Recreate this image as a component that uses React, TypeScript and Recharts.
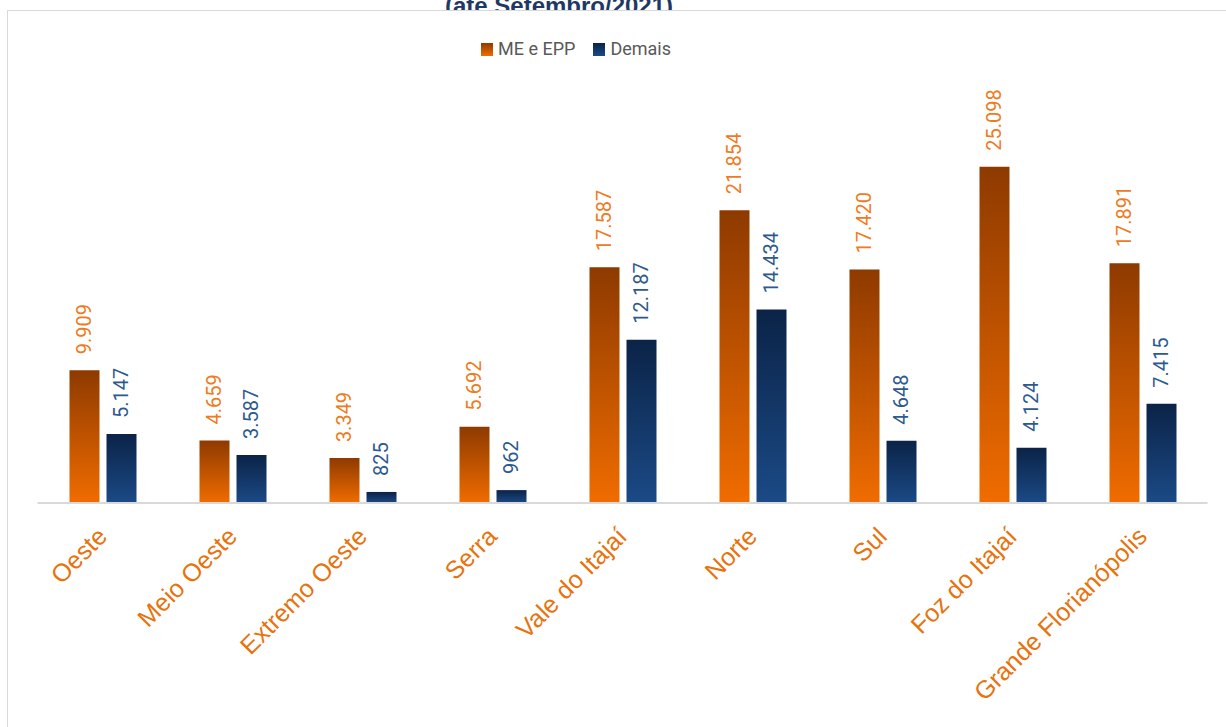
import React from "react";
import { BarChart, Bar, XAxis, YAxis, LabelList } from "recharts";

const regions = ["Oeste", "Meio Oeste", "Extremo Oeste", "Serra", "Vale do Itajaí", "Norte", "Sul", "Foz do Itajaí", "Grande Florianópolis"];
const meEpp = [9909, 4659, 3349, 5692, 17587, 21854, 17420, 25098, 17891];
const demais = [5147, 3587, 825, 962, 12187, 14434, 4648, 4124, 7415];
const seriesNames = ["ME e EPP", "Demais"];

const data = regions.map((name, i) => ({ name, me: meEpp[i], demais: demais[i] }));

const fmt = (v: number) => String(v).replace(/\B(?=(\d{3})+(?!\d))/g, ".");

const ORANGE_LABEL = "#EE7B22";
const BLUE_LABEL = "#2D5A8E";
const AXIS_ORANGE = "#E8720C";

function makeLabel(color: string) {
  return (props: any) => {
    const { x, y, width, value } = props;
    const cx = Number(x) + Number(width) / 2 + 7;
    const ty = Number(y) - 16;
    return (
      <text x={cx} y={ty} transform={`rotate(-90 ${cx} ${ty})`} textAnchor="start" fill={color}
        style={{ fontFamily: "Roboto", fontSize: 20 }}>
        {fmt(value)}
      </text>
    );
  };
}

function Tick(props: any) {
  const { x, y, payload } = props;
  const ax = x + 6;
  const ay = y + 35;
  return (
    <text x={ax} y={ay} transform={`rotate(-45 ${ax} ${ay})`} textAnchor="end" fill={AXIS_ORANGE}
      style={{ fontFamily: "'Liberation Sans', Arial", fontSize: 25 }}>
      {payload.value}
    </text>
  );
}

export default function App() {
  return (
    <div style={{ position: "absolute", left: 0, top: 0, width: 1226, height: 727, overflow: "hidden", background: "#fff" }}>
      <svg width={1226} height={30} style={{ position: "absolute", left: 0, top: 0 }}>
        <text x={559} y={14} textAnchor="middle" fill="#1F3864"
          style={{ fontFamily: "'Liberation Sans', Arial", fontSize: 24, fontWeight: 700 }}>
          (até Setembro/2021)
        </text>
      </svg>
      <div style={{ position: "absolute", left: 7, top: 10, width: 1400, height: 900, background: "#fff",
        borderLeft: "1.5px solid #D9D9D9", borderTop: "1.5px solid #D9D9D9" }} />
      <div style={{ position: "absolute", left: 481, top: 36, display: "flex", alignItems: "center",
        fontFamily: "Roboto", fontSize: 18, color: "#595959", lineHeight: "26px" }}>
        <span style={{ width: 12, height: 13, background: "linear-gradient(#8E3A00, #F06C00)", marginRight: 5 }} />
        <span style={{ marginRight: 18 }}>{seriesNames[0]}</span>
        <span style={{ width: 12, height: 13, background: "linear-gradient(#0B2347, #1B4A86)", marginRight: 5 }} />
        <span>{seriesNames[1]}</span>
      </div>
      <div style={{ position: "absolute", left: 0, top: 0 }}>
        <BarChart width={1226} height={727} data={data} barSize={30} barGap={7}
          margin={{ top: 101, right: 18.5, left: 37.5, bottom: 194 }}>
          <defs>
            <linearGradient id="gOrange" x1="0" y1="0" x2="0" y2="1">
              <stop offset="0%" stopColor="#8E3A00" />
              <stop offset="100%" stopColor="#F06C00" />
            </linearGradient>
            <linearGradient id="gBlue" x1="0" y1="0" x2="0" y2="1">
              <stop offset="0%" stopColor="#0B2347" />
              <stop offset="100%" stopColor="#1B4A86" />
            </linearGradient>
          </defs>
          <XAxis dataKey="name" height={30} axisLine={{ stroke: "#D9D9D9", strokeWidth: 2 }} tickLine={false}
            tickSize={0} tickMargin={0} interval={0} tick={<Tick />} />
          <YAxis hide domain={[0, 30000]} />
          <Bar dataKey="me" name={seriesNames[0]} fill="url(#gOrange)" isAnimationActive={false}>
            <LabelList dataKey="me" content={makeLabel(ORANGE_LABEL)} />
          </Bar>
          <Bar dataKey="demais" name={seriesNames[1]} fill="url(#gBlue)" isAnimationActive={false}>
            <LabelList dataKey="demais" content={makeLabel(BLUE_LABEL)} />
          </Bar>
        </BarChart>
      </div>
    </div>
  );
}
